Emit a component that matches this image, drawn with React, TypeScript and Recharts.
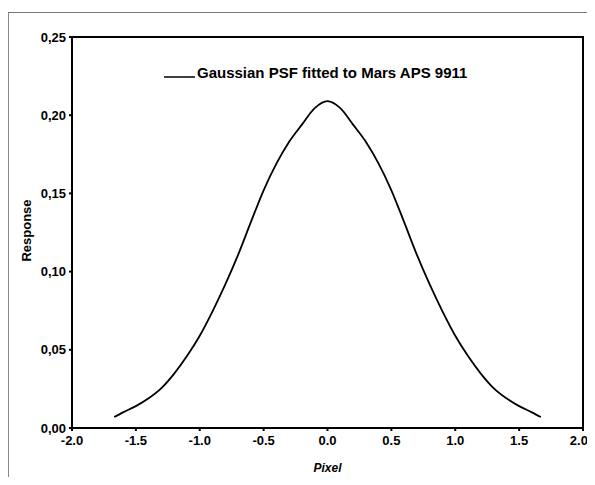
import { LineChart, Line, XAxis, YAxis, ReferenceArea } from 'recharts'

// values
const pixel = [
  -1.67, -1.6, -1.5, -1.4, -1.3, -1.2, -1.1, -1.0, -0.9, -0.8, -0.7, -0.6, -0.5, -0.4, -0.3, -0.2, -0.1,
  0.0,
  0.1, 0.2, 0.3, 0.4, 0.5, 0.6, 0.7, 0.8, 0.9, 1.0, 1.1, 1.2, 1.3, 1.4, 1.5, 1.6, 1.67,
]
const response = [
  0.007, 0.010, 0.014, 0.019, 0.0255, 0.0348, 0.046, 0.059, 0.0746, 0.0918, 0.1107, 0.1316, 0.152, 0.169, 0.183, 0.194, 0.2045,
  0.209,
  0.2045, 0.194, 0.183, 0.169, 0.152, 0.1316, 0.1107, 0.0918, 0.0746, 0.059, 0.046, 0.0348, 0.0255, 0.019, 0.014, 0.010, 0.007,
]
const xTicks = [-2.0, -1.5, -1.0, -0.5, 0.0, 0.5, 1.0, 1.5, 2.0]
const yTicks = [0.0, 0.05, 0.1, 0.15, 0.2, 0.25]
const seriesName = 'Gaussian PSF fitted to Mars APS 9911'

const data = pixel.map((p, i) => ({ pixel: p, response: response[i] }))

const font = 'Arial, "Liberation Sans", Helvetica, sans-serif'

const tickStyle = { fontFamily: font, fontSize: 13, fontWeight: 700, fill: '#000' }

const LegendBox = () => (
  <div style={{
    position: 'absolute', left: 156, top: 56,
    display: 'flex', alignItems: 'center', fontFamily: font, fontSize: 15, fontWeight: 700, color: '#000',
  }}>
    <svg width={32} height={17}>
      <line x1={0} y1={13} x2={31} y2={13} stroke='#000' strokeWidth={1.5} />
    </svg>
    <span style={{ marginLeft: 1, whiteSpace: 'nowrap' }}>{seriesName}</span>
  </div>
)

const App = () => {
  return (
    <div style={{ position: 'relative', width: 579, height: 469 }}>
      <style>{'html { overflow: hidden; } .recharts-wrapper, .recharts-surface { overflow: visible !important; }'}</style>
      <div style={{
        position: 'absolute', left: 0, top: 4, width: 587, height: 473,
        borderTop: '1px solid #777', borderLeft: '1px solid #888',
      }} />
      <LineChart
        width={579}
        height={469}
        data={data}
        margin={{ top: 29, right: 4, bottom: 0, left: 0 }}
      >
        <ReferenceArea x1={-2} x2={2} y1={0} y2={0.25} fill='none' stroke='#000' strokeWidth={2} />
        <XAxis
          dataKey='pixel'
          type='number'
          domain={[-2, 2]}
          ticks={xTicks}
          tickFormatter={(v) => v.toFixed(1)}
          tick={tickStyle}
          tickSize={3}
          tickMargin={5}
          stroke='#000'
          strokeWidth={2}
          height={49}
          label={(props: any) => {
            const vb = props.viewBox
            return (
              <text x={vb.x + vb.width / 2} y={464} textAnchor='middle'
                style={{ fontFamily: font, fontSize: 12, fontWeight: 700, fontStyle: 'italic' }}>Pixel</text>
            )
          }}
        />
        <YAxis
          type='number'
          domain={[0, 0.25]}
          ticks={yTicks}
          tickFormatter={(v) => v.toFixed(2).replace('.', ',')}
          tick={tickStyle}
          tickSize={3}
          tickMargin={3}
          stroke='#000'
          strokeWidth={2}
          width={64}
          label={(props: any) => {
            const vb = props.viewBox
            const cy = vb.y + vb.height / 2 - 2
            return (
              <text x={23} y={cy} transform={`rotate(-90, 23, ${cy})`} textAnchor='middle'
                style={{ fontFamily: font, fontSize: 13, fontWeight: 700 }}>Response</text>
            )
          }}
        />
        <Line
          type='monotone'
          dataKey='response'
          name={seriesName}
          stroke='#000'
          strokeWidth={1.8}
          dot={false}
          isAnimationActive={false}
        />
      </LineChart>
      <LegendBox />
    </div>
  )
}

export default App
